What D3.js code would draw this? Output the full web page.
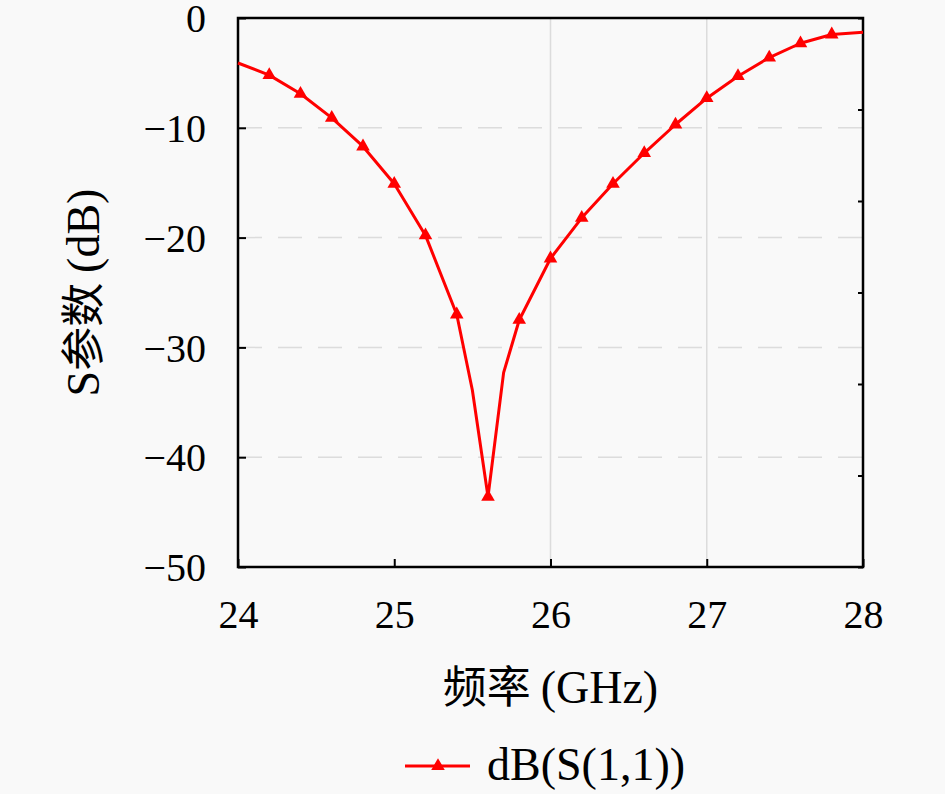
<!DOCTYPE html>
<html lang="zh">
<head>
<meta charset="UTF-8">
<title>S11</title>
<style>
	html, body { margin: 0; background: #f9f9f9; }
	svg { display: block; }
</style>
<script src="https://d3js.org/d3.v7.min.js"></script>
</head>
<body>
<svg id="chart"></svg>
<script>
// frequency (GHz) and dB(S(1,1))
const freq = [24.0, 24.2, 24.4, 24.6, 24.8, 25.0, 25.2, 25.4, 25.5, 25.6, 25.7, 25.8, 26.0, 26.2, 26.4, 26.6, 26.8, 27.0, 27.2, 27.4, 27.6, 27.8, 28.0];
const s11 = [-4.1, -5.2, -6.9, -9.1, -11.7, -15.1, -19.8, -27.0, -33.9, -43.6, -32.3, -27.5, -21.9, -18.2, -15.1, -12.3, -9.7, -7.3, -5.3, -3.6, -2.3, -1.5, -1.3];
// triangles only every 0.2 GHz
const markerFreq = [24.2, 24.4, 24.6, 24.8, 25.0, 25.2, 25.4, 25.6, 25.8, 26.0, 26.2, 26.4, 26.6, 26.8, 27.0, 27.2, 27.4, 27.6, 27.8];
const xTicks = [24, 25, 26, 27, 28];
const yTicks = [0, -10, -20, -30, -40, -50];
const xGrid = [26, 27];
const yGrid = [-10, -20, -30, -40];

const SERIF = "Liberation Serif";
const CJK = "Noto Sans CJK SC";

const W = 945, H = 794;
const margin = { left: 238, right: W - 863, top: 18, bottom: H - 567 };
const svg = d3.select('#chart').attr('width', W).attr('height', H);

const x = d3.scaleLinear().domain([24, 28]).range([margin.left, W - margin.right]);
const y = d3.scaleLinear().domain([-50, 0]).range([H - margin.bottom, margin.top]);

const points = freq.map((f, i) => ({ f, v: s11[i] }));
const markers = points.filter(p => markerFreq.some(m => Math.abs(m - p.f) < 1e-6));

// grid
svg.append('g').selectAll('line').data(xGrid).join('line')
	.attr('x1', d => x(d)).attr('x2', d => x(d))
	.attr('y1', y(0)).attr('y2', y(-50))
	.attr('stroke', '#dcdcdc').attr('stroke-width', 1.5);
svg.append('g').selectAll('line').data(yGrid).join('line')
	.attr('x1', x(24)).attr('x2', x(28))
	.attr('y1', d => y(d)).attr('y2', d => y(d))
	.attr('stroke', '#dcdcdc').attr('stroke-width', 1.5)
	.attr('stroke-dasharray', '24,16');

// axes with inward ticks
const fmt = d => d < 0 ? '\u2212' + Math.abs(d) : String(d);
const gx = svg.append('g').attr('transform', `translate(0,${y(-50)})`)
	.call(d3.axisBottom(x).tickValues(xTicks).tickSize(-8).tickPadding(49).tickFormat(d3.format('d')));
const gy = svg.append('g').attr('transform', `translate(${x(24)},0)`)
	.call(d3.axisLeft(y).tickValues(yTicks).tickSize(-8).tickPadding(32).tickFormat(fmt));
const yRight = d3.scaleLinear().domain([0, 6]).range([y(-50), y(0)]);
const gr = svg.append('g').attr('transform', `translate(${x(28)},0)`)
	.call(d3.axisRight(yRight).ticks(6).tickSize(-5).tickFormat(''));
[gx, gy, gr].forEach(g => {
	g.attr('font-family', null).attr('font-size', null);
	g.select('.domain').remove();
	g.selectAll('.tick line').attr('stroke', '#000').attr('stroke-width', 2);
	g.selectAll('text').attr('fill', '#000').style('font-family', SERIF).style('font-size', '40px');
});
gx.selectAll('.tick text').attr('dy', '0.3em');
gy.selectAll('.tick text').attr('dy', '0.34em');

// frame
svg.append('rect')
	.attr('x', x(24)).attr('y', y(0))
	.attr('width', x(28) - x(24)).attr('height', y(-50) - y(0))
	.attr('fill', 'none').attr('stroke', '#000').attr('stroke-width', 2.5);

// series
const line = d3.line().x(d => x(d.f)).y(d => y(d.v));
svg.append('path').datum(points)
	.attr('d', line).attr('fill', 'none')
	.attr('stroke', '#ff0000').attr('stroke-width', 3).attr('stroke-linejoin', 'round');
const tri = d3.symbol().type(d3.symbolTriangle).size(80);
svg.append('g').selectAll('path').data(markers).join('path')
	.attr('transform', d => `translate(${x(d.f)},${y(d.v)})`)
	.attr('d', tri).attr('fill', '#ff0000');

// axis titles
svg.append('text')
	.attr('x', (x(24) + x(28)) / 2).attr('y', 703)
	.attr('text-anchor', 'middle')
	.call(t => {
		t.append('tspan').style('font-family', CJK).style('font-size', '44px').text('频率 ');
		t.append('tspan').style('font-family', SERIF).style('font-size', '46px').text('(GHz)');
	});
svg.append('text')
	.attr('transform', `translate(99,${(y(0) + y(-50)) / 2}) rotate(-90)`)
	.attr('text-anchor', 'middle')
	.call(t => {
		t.append('tspan').style('font-family', SERIF).style('font-size', '46px').text('S');
		t.append('tspan').style('font-family', CJK).style('font-size', '44px').text('参数 ');
		t.append('tspan').style('font-family', SERIF).style('font-size', '46px').text('(dB)');
	});

// legend
const lg = svg.append('g').attr('transform', 'translate(405,766)');
lg.append('line').attr('x1', 0).attr('x2', 65).attr('stroke', '#ff0000').attr('stroke-width', 3);
lg.append('path').attr('transform', 'translate(33,0)').attr('d', tri).attr('fill', '#ff0000');
lg.append('text').style('font-family', SERIF).attr('x', 82).attr('y', 14)
	.style('font-size', '46px').text('dB(S(1,1))');
</script>
</body>
</html>
